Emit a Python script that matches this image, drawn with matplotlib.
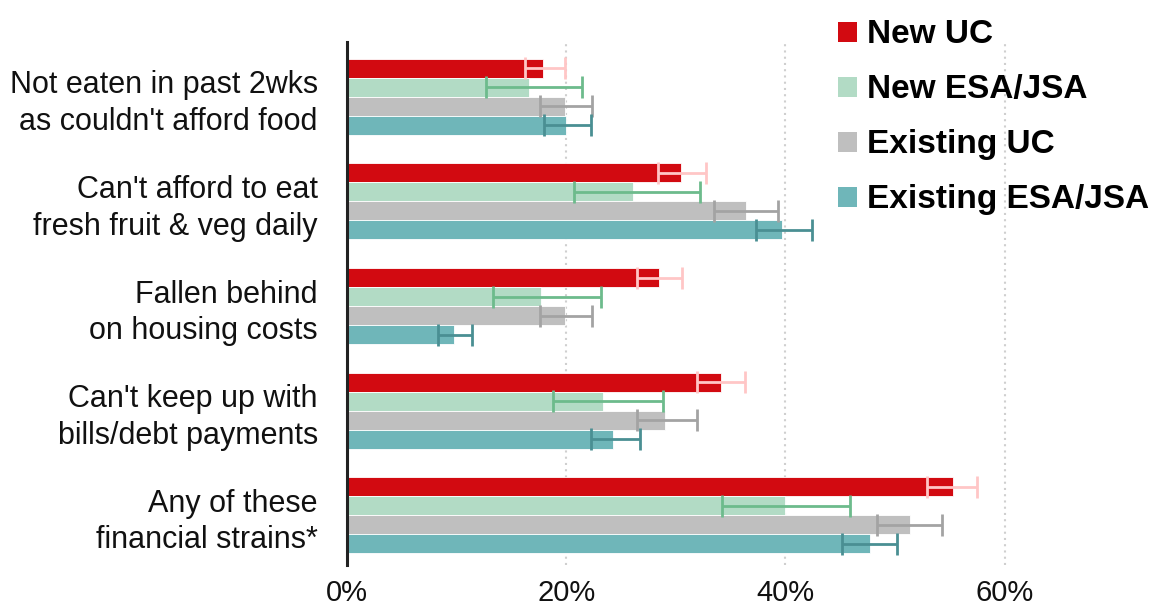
import matplotlib.pyplot as plt
from matplotlib.patches import Patch
from matplotlib.ticker import FuncFormatter
import numpy as np

plt.rcParams['font.family'] = ['Liberation Sans', 'DejaVu Sans']

# Les données
categories = ["Not eaten in past 2wks\nas couldn't afford food",
              "Can't afford to eat\nfresh fruit & veg daily",
              "Fallen behind\non housing costs",
              "Can't keep up with\nbills/debt payments",
              "Any of these\nfinancial strains*"]
series = ["New UC", "New ESA/JSA", "Existing UC", "Existing ESA/JSA"]

new_uc = [17.9, 30.5, 28.5, 34.1, 55.3]
new_uc_lo = [16.2, 28.4, 26.5, 31.9, 52.9]
new_uc_hi = [19.9, 32.8, 30.6, 36.3, 57.5]

new_esa = [16.6, 26.1, 17.7, 23.4, 40.0]
new_esa_lo = [12.7, 20.7, 13.3, 18.8, 34.2]
new_esa_hi = [21.4, 32.2, 23.2, 28.8, 45.9]

ex_uc = [19.9, 36.4, 19.9, 29.0, 51.4]
ex_uc_lo = [17.6, 33.5, 17.6, 26.5, 48.4]
ex_uc_hi = [22.4, 39.3, 22.4, 31.9, 54.3]

ex_esa = [20.0, 39.7, 9.8, 24.3, 47.7]
ex_esa_lo = [18.0, 37.3, 8.3, 22.3, 45.2]
ex_esa_hi = [22.3, 42.4, 11.4, 26.7, 50.2]

xticks = [0, 20, 40, 60]

valeurs = [new_uc, new_esa, ex_uc, ex_esa]
bas = [new_uc_lo, new_esa_lo, ex_uc_lo, ex_esa_lo]
hauts = [new_uc_hi, new_esa_hi, ex_uc_hi, ex_esa_hi]

couleurs = ["#d20a11", "#b2dbc5", "#bfbfbf", "#6fb6b9"]
couleurs_err = ["#ffc6c6", "#6dbb8c", "#a3a3a3", "#4a8f93"]

fig = plt.figure(figsize=(11.55, 6.10), dpi=100)
ax = fig.add_axes([347/1155, 1-565/610, 663/1155, 523/610])

h = 19/104.5
y = np.arange(len(categories))
for j in range(4):
    pos = y + (j - 1.5) * h
    v = np.array(valeurs[j])
    ax.barh(pos, v, height=h, color=couleurs[j], edgecolor='white',
            linewidth=0.6, zorder=2)
    err = [v - np.array(bas[j]), np.array(hauts[j]) - v]
    ax.errorbar(v, pos, xerr=err, fmt='none', ecolor=couleurs_err[j],
                elinewidth=2, capsize=8, capthick=2, zorder=3)

ax.set_xlim(0, 60.5)
ax.set_ylim(4.478, -0.526)
ax.set_xticks(xticks)
ax.xaxis.set_major_formatter(FuncFormatter(lambda v, p: f"{v:.0f}%"))
ax.set_yticks(y)
ax.set_yticklabels(categories, fontsize=22, linespacing=1.3, color='#111111')
ax.tick_params(axis='y', length=0, pad=21)
ax.tick_params(axis='x', length=0, pad=10, labelsize=21, labelcolor='#111111')
for lbl in ax.get_yticklabels():
    lbl.set_horizontalalignment('right')

for x in xticks[1:]:
    ax.axvline(x, color='#cfcfcf', linestyle=(0, (1, 2)), linewidth=1.5, zorder=1)

for s in ['top', 'right', 'bottom']:
    ax.spines[s].set_visible(False)
ax.spines['left'].set_color('#222222')
ax.spines['left'].set_linewidth(2.2)
ax.spines['left'].set_zorder(4)

handles = [Patch(facecolor=c, edgecolor='none') for c in couleurs]
leg = fig.legend(handles, series, loc='upper left',
                 bbox_to_anchor=(825/1155, 1 - 6/610), frameon=False,
                 prop={'weight': 'bold', 'size': 24},
                 handlelength=0.55, handleheight=0.55, handletextpad=0.3,
                 labelspacing=0.72, borderaxespad=0)

fig.savefig('out.png', dpi=100)
